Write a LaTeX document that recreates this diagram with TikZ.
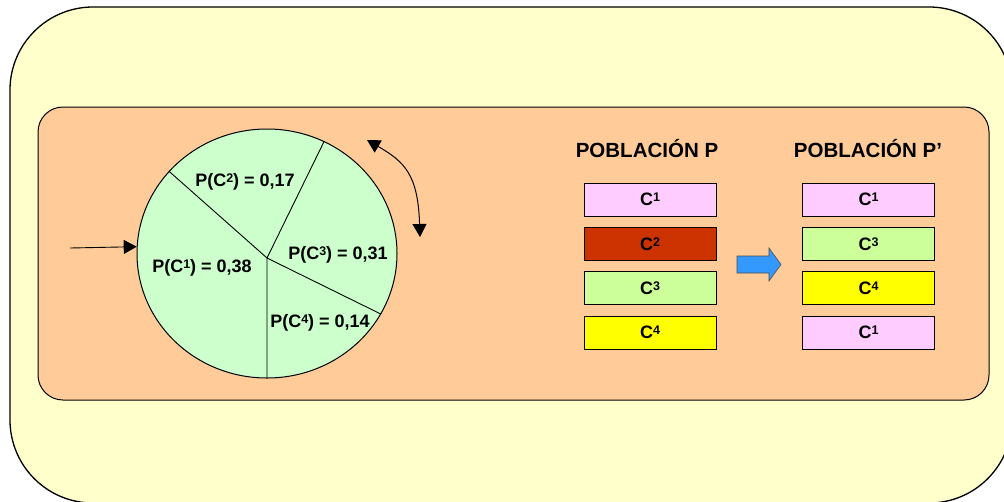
\documentclass[tikz,border=0pt]{standalone}
\usepackage{fontspec}
\setmainfont{Liberation Sans}
\usetikzlibrary{arrows.meta,shapes.geometric,positioning}
\definecolor{fondo}{HTML}{FFFFCC}
\definecolor{marco}{HTML}{FFCC99}
\definecolor{verde}{HTML}{CCFFCC}
\definecolor{rosa}{HTML}{FFCCFF}
\definecolor{rojo}{HTML}{CC3300}
\definecolor{lima}{HTML}{CCFF99}
\definecolor{amarillo}{HTML}{FFFF00}
\definecolor{azul}{HTML}{3399FF}
\newcommand{\cro}[1]{C\raisebox{4pt}{\fontsize{12.5}{12.5}\selectfont #1}}

\begin{document}
\begin{tikzpicture}[x=10pt,y=10pt,
  font=\fontsize{18}{21}\selectfont\bfseries,
  titulo/.style={font=\fontsize{20.5}{24}\selectfont\bfseries},
  cromo/.style={draw, line width=0.8pt, minimum width=132pt, minimum height=33pt, inner sep=0pt},
  punta/.style={-{Triangle[length=13pt,width=14pt]}}]
\useasboundingbox (0,0) rectangle (100.4,-50.1);
% fondo
\draw [line width=1.3pt, fill=fondo, rounded corners=83pt] (1,-0.7) rectangle (101.2,-50.3);
\draw [line width=1pt, fill=marco, rounded corners=25pt] (3.8,-10.7) rectangle (98.9,-40);
% ruleta
\node (ruleta) [ellipse, draw, line width=1pt, fill=verde, minimum width=260pt, minimum height=249pt, inner sep=0pt] at (26.7,-25.35) {};
\coordinate (centro) at (26.7,-25.8);
\draw [line width=0.9pt] (ruleta.140.5) -- (centro) -- (ruleta.63.7);
\draw [line width=0.9pt] (ruleta.-28.4) -- (centro) -- (ruleta.south);
\node (p1) at (20.2,-26.8) {P(\cro{1}) = 0,38};
\node (p2) at (24.5,-18.2) {P(\cro{2}) = 0,17};
\node (p3) at (33.8,-25.5) {P(\cro{3}) = 0,31};
\node (p4) at (32.0,-32.3) {P(\cro{4}) = 0,14};
% flechas de la ruleta
\coordinate (entrada) at (7,-24.8);
\draw [punta, line width=0.9pt] (entrada) -- (ruleta.177);
\coordinate (giro1) at (36.7,-14.0);
\coordinate (giro2) at (42.0,-23.7);
\draw [{Triangle[length=13pt,width=14pt]}-{Triangle[length=13pt,width=14pt]}, line width=1pt]
  (giro1) .. controls (40.5,-16.2) and (41.8,-17.5) .. (giro2);
% poblaciones
\node (h1) [titulo] at (64.7,-14.9) {POBLACIÓN P};
\node (h2) [titulo] at (86.8,-14.9) {POBLACIÓN P’};
\node (a1) [cromo, fill=rosa] at (65,-19.95) {\cro{1}};
\node (a2) [cromo, fill=rojo, below=10.5pt of a1] {\cro{2}};
\node (a3) [cromo, fill=lima, below=10.5pt of a2] {\cro{3}};
\node (a4) [cromo, fill=amarillo, below=10.5pt of a3] {\cro{4}};
\node (b1) [cromo, fill=rosa] at (86.85,-19.95) {\cro{1}};
\node (b2) [cromo, fill=lima, below=10.5pt of b1] {\cro{3}};
\node (b3) [cromo, fill=amarillo, below=10.5pt of b2] {\cro{4}};
\node (b4) [cromo, fill=rosa, below=10.5pt of b3] {\cro{1}};
% flecha de seleccion
\draw [fill=azul, draw=black!70, line width=0.6pt] (73.7,-25.6) -- (76.9,-25.6) -- (76.9,-24.8)
  -- (78.1,-26.45) -- (76.9,-28.1) -- (76.9,-27.3) -- (73.7,-27.3) -- cycle;
\end{tikzpicture}
\end{document}
